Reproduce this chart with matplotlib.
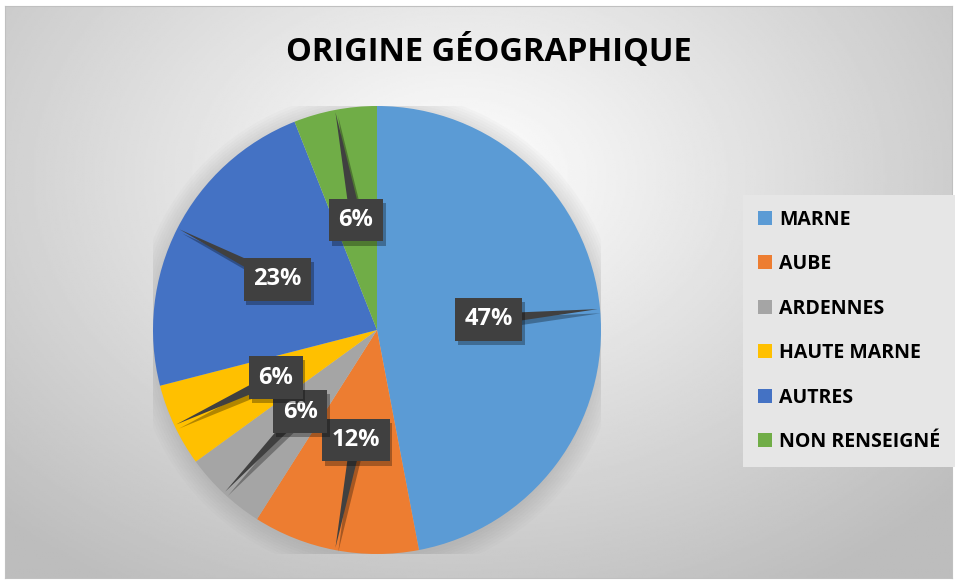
import matplotlib.pyplot as plt
import matplotlib.patheffects as pe
from matplotlib.patches import Polygon
import numpy as np

# Data
labels = ["MARNE", "AUBE", "ARDENNES", "HAUTE MARNE", "AUTRES", "NON RENSEIGNÉ"]
shares = [47, 12, 6, 6, 23, 6]
colors = ["#5b9bd5", "#ed7d31", "#a5a5a5", "#ffc000", "#4472c4", "#70ad47"]
title = "ORIGINE GÉOGRAPHIQUE"

plt.rcParams["font.family"] = ["Open Sans", "DejaVu Sans"]
plt.rcParams["hatch.color"] = "#555555"
plt.rcParams["hatch.linewidth"] = 1.0

W, H = 957, 581
fig = plt.figure(figsize=(W / 100, H / 100), dpi=100)
fig.patch.set_facecolor("white")

# grey radial gradient background with thin frame
bg = fig.add_axes([5 / W, 3 / H, 947 / W, 572 / H], zorder=-5)
yy, xx = np.mgrid[0:1:300j, 0:1:500j]
d = np.sqrt(((xx - 0.48) / 0.75) ** 2 + ((yy - 0.3) / 0.9) ** 2)
shade = np.clip(1.0 - 0.28 * d, 0.74, 1.0)
bg.imshow(shade, cmap="gray", vmin=0, vmax=1, aspect="auto", extent=[0, 1, 0, 1], origin="upper")
bg.set_xticks([])
bg.set_yticks([])
for s in bg.spines.values():
    s.set_color("#c0c0c0")
    s.set_linewidth(0.8)

# pie axes: center (377, 330) px, radius 224 px
cx, cy, r = 377, 330, 224
ax = fig.add_axes([(cx - r) / W, (H - cy - r) / H, 2 * r / W, 2 * r / H])

# soft shadow under the pie
for k in range(8):
    ax.add_patch(plt.Circle((0.0, -0.015), 1.0 + 0.012 * k, color="#808080",
                            alpha=0.035, lw=0, zorder=0))

wedges, texts, autotexts = ax.pie(
    shares,
    colors=colors,
    startangle=90,
    counterclock=False,
    radius=1.0,
    pctdistance=0.5,
    autopct=lambda p: f"{p:.0f}%",
    wedgeprops=dict(linewidth=0, zorder=1),
    frame=True,
)
ax.set_xlim(-1, 1)
ax.set_ylim(-1, 1)
ax.axis("off")

# callout tails from label box to wedge edge
shadow = [pe.SimplePatchShadow(offset=(2, -3), shadow_rgbFace="black", alpha=0.3), pe.Normal()]
for w in wedges:
    a = np.deg2rad((w.theta1 + w.theta2) / 2)
    u = np.array([np.cos(a), np.sin(a)])
    n = np.array([-u[1], u[0]])
    base = 0.5 * u
    tip = 0.99 * u
    tail = Polygon([base + 0.026 * n, base - 0.026 * n, tip], closed=True,
                   facecolor="#404040", edgecolor="none", zorder=2, hatch="..")
    tail.set_path_effects(shadow)
    ax.add_patch(tail)

for t in autotexts:
    t.set_color("white")
    t.set_fontweight("bold")
    t.set_fontsize(17)
    t.set_zorder(4)
    t.set_bbox(dict(boxstyle="square,pad=0.4", facecolor="#404040", edgecolor="none", hatch=".."))
    t.get_bbox_patch().set_path_effects(shadow)

fig.text(489 / W, 1 - 52 / H, title, ha="center", va="center",
         fontsize=23.5, fontweight="bold", color="black")

leg = fig.legend(
    wedges, labels,
    loc="upper left",
    bbox_to_anchor=(743 / W, 1 - 195 / H),
    borderaxespad=0,
    frameon=True,
    fancybox=False,
    facecolor="#e6e6e6",
    edgecolor="none",
    framealpha=1,
    handlelength=0.75,
    handleheight=0.75,
    handletextpad=0.35,
    labelspacing=1.26,
    borderpad=0.75,
    prop=dict(weight="bold", size=14),
)

fig.savefig("out.png", dpi=100)
